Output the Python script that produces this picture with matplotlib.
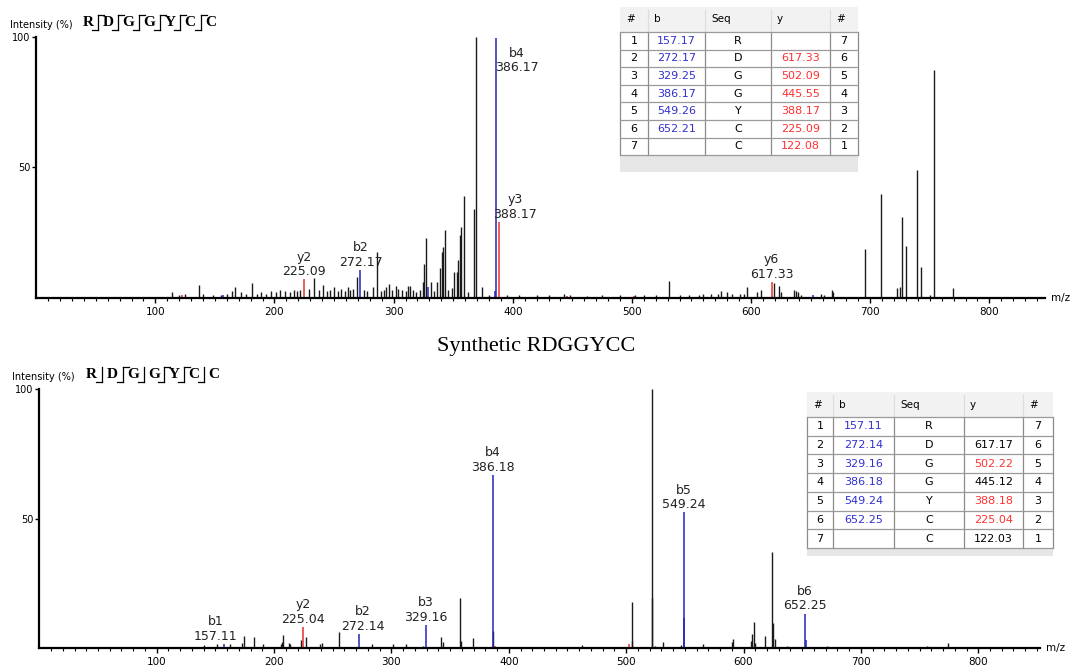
import matplotlib
matplotlib.use("Agg")
import matplotlib.pyplot as plt
from matplotlib.patches import Rectangle
from matplotlib.lines import Line2D

# ---------------- data ----------------
sequence = ["R", "D", "G", "G", "Y", "C", "C"]

# top spectrum (observed peptide)
top_other_mz = [114, 120, 125, 137, 140, 148, 155, 160, 164, 167, 172, 176, 181, 185, 189, 193, 197,
                201, 205, 209, 213, 216, 219, 221, 229, 233, 237, 241, 244, 247, 250, 253, 256, 259,
                261.5, 263.4, 266, 269, 275, 278, 283, 286, 289, 292, 294, 296.4, 299, 302, 304,
                306.8, 310, 312, 313.8, 316, 319, 322, 324.4, 325.8, 326.9, 331.4, 334, 336.7, 339.2,
                340.6, 341.7, 343.2, 346, 349.3, 350.7, 352.9, 354.3, 355.5, 356.6, 358.8, 362, 367.5,
                368.9, 374, 380, 395, 405, 420, 430, 443, 448, 462, 475, 490, 503, 510, 520, 531.4,
                540, 548, 556, 560, 566, 572, 575, 580, 584, 591, 594, 597, 605, 608, 619, 623.5, 625,
                636, 637.5, 639, 642, 659, 661, 667.7, 669, 695.7, 709, 722.5, 725, 726.7, 730, 739.3,
                742.7, 750.2, 753.6, 769.5]
top_other_int = [2, 1, 1.5, 4.7, 1.5, 1, 1.2, 1.5, 2.5, 4, 2, 1.5, 5.5, 1.5, 2, 1.5, 2.5,
                 2, 3, 2.5, 2, 3, 2.5, 3, 3.5, 7.4, 3, 4.7, 2.5, 3, 4, 2.5, 3.5, 2.5,
                 4, 3, 3.5, 8, 3, 2.5, 4, 17.6, 2.5, 3, 4, 5.4, 3, 4.5, 3.5,
                 3, 2.5, 4.5, 4.5, 3, 2, 3, 6, 13, 23, 6, 2.5, 6, 11.4,
                 17.6, 19.6, 26, 3, 3.7, 10, 10, 14.5, 24, 27, 39, 2, 34,
                 100, 4, 1, 1, 1, 1, 1.2, 1.5, 1, 0.8, 1, 1, 1, 1, 1, 6.4,
                 1, 1.2, 1, 1.5, 1.3, 1.5, 2.5, 2.2, 1.5, 1.5, 1.5, 4, 2, 3, 5.5, 4.5, 2,
                 3, 2.5, 2, 1, 1.5, 1, 3, 2, 18.7, 39.8, 3.7, 4.1, 31, 20, 49,
                 11.8, 1, 87.4, 3.8]
top_b_mz = [157.17, 272.17, 329.25, 385.2, 386.17, 651.8]
top_b_int = [1, 10.6, 4, 2.5, 99.5, 1]
top_y_mz = [122.08, 225.09, 388.17, 445.55, 502.09, 617.33]
top_y_int = [1, 7, 29, 0.6, 0.5, 6]
top_labels = ["y2", "b2", "b4", "y3", "y6"]
top_label_mz = [225.09, 272.17, 386.17, 388.17, 617.33]
top_label_int = [7, 10.6, 99.5, 29, 6]

# bottom spectrum (synthetic peptide)
bot_other_mz = [140.3, 151.4, 162.2, 172.7, 174.7, 183.2, 190.3, 205.9, 206.8, 207.9, 212.5, 213.5,
                223, 227, 239.2, 241.1, 255.6, 283.7, 301.1, 312.4, 327.2, 342, 344.3, 358.2, 359.3,
                369.2, 386.9, 462, 504.7, 505.3, 521.8, 522.3, 524.8, 531.8, 547, 565.6, 589.9,
                591.3, 606.1, 607.3, 608.7, 610, 618.1, 624.3, 624.8, 626.8, 636.8, 670.9, 756, 774.5]
bot_other_int = [1.2, 1.5, 1.5, 2.2, 4.9, 4.2, 1.5, 1.5, 2.6, 5, 2.2, 1.5,
                 3.2, 4.5, 1.5, 2, 6.3, 1.5, 1.7, 1.8, 1, 4.2, 2.6, 19.5, 2.8,
                 3.9, 6.7, 1.3, 18, 3, 100, 19.5, 1, 2.5, 1.3, 1.5, 2.5,
                 3.4, 3, 5.4, 10.3, 2, 4.6, 37.2, 9.6, 3.5, 1, 1, 1, 2.2]
bot_b_mz = [157.11, 272.14, 329.16, 386.18, 549.24, 549.6, 652.25, 653.0]
bot_b_int = [1.7, 5.4, 9, 66.8, 52.4, 11.8, 13.4, 3.2]
bot_y_mz = [225.04, 388.18, 502.22]
bot_y_int = [8.1, 1, 1.5]
bot_labels = ["b1", "y2", "b2", "b3", "b4", "b5", "b6"]
bot_label_mz = [157.11, 225.04, 272.14, 329.16, 386.18, 549.24, 652.25]
bot_label_int = [1.7, 8.1, 5.4, 9, 66.8, 52.4, 13.4]

# fragment tables
top_b_tab = ["157.17", "272.17", "329.25", "386.17", "549.26", "652.21", ""]
top_y_tab = ["", "617.33", "502.09", "445.55", "388.17", "225.09", "122.08"]
top_y_found = [False, True, True, True, True, True, True]
bot_b_tab = ["157.11", "272.14", "329.16", "386.18", "549.24", "652.25", ""]
bot_y_tab = ["", "617.17", "502.22", "445.12", "388.18", "225.04", "122.03"]
bot_y_found = [False, False, True, False, True, True, False]

B_COL = "#2424b4"
Y_COL = "#e83030"
K_COL = "#1a1a1a"
W, H = 1073, 671


def fx(px):
    return px / W


def fy(py):
    return 1 - py / H


fig = plt.figure(figsize=(W / 100, H / 100), dpi=100)
fig.patch.set_facecolor("white")


def spectrum(rect, xmax, other_mz, other_int, b_mz, b_int, y_mz, y_int):
    ax = fig.add_axes(rect)
    ax.vlines(other_mz, 0, other_int, color=K_COL, lw=1.0, clip_on=False)
    ax.vlines(b_mz, 0, b_int, color=B_COL, lw=1.1, clip_on=False)
    ax.vlines(y_mz, 0, y_int, color=Y_COL, lw=1.1, clip_on=False)
    ax.set_xlim(0, xmax)
    ax.set_ylim(0, 100)
    for s in ["top", "right"]:
        ax.spines[s].set_visible(False)
    ax.spines["left"].set_linewidth(1.6)
    ax.spines["bottom"].set_linewidth(1.6)
    ax.set_yticks([50, 100])
    ax.set_yticklabels(["50", "100"])
    ax.set_xticks(range(100, 900, 100))
    ax.set_xticks(range(10, int(xmax), 10), minor=True)
    ax.tick_params(axis="y", length=3, width=1, pad=1, labelsize=7)
    ax.tick_params(axis="x", which="major", length=3.6, width=1, pad=3, labelsize=7.5)
    ax.tick_params(axis="x", which="minor", length=2, width=0.8)
    ax.text(1.006, 0, "m/z", transform=ax.transAxes, fontsize=7.5, va="center", ha="left")
    return ax


def label_peaks(ax, names, mzs, ints, dx=None, dy=None, va=None):
    for i, (n, m, v) in enumerate(zip(names, mzs, ints)):
        ox = 0 if dx is None else dx[i]
        oy = 2 if dy is None else dy[i]
        a = "bottom" if va is None else va[i]
        ax.annotate(f"{n}\n{m:.2f}", (m, v), xytext=(ox, oy), textcoords="offset points",
                    ha="center", va=a, fontsize=9, color="#222222", linespacing=1.15)


def seq_header(x0, yc, xs, y_found):
    fig.text(fx(x0), fy(yc + 2), "Intensity (%)", fontsize=7, va="center", ha="left")
    for x, aa in zip(xs, sequence):
        fig.text(fx(x), fy(yc), aa, fontsize=11, fontweight="bold", family="Liberation Serif",
                 ha="center", va="center")
    for i in range(len(xs) - 1):
        sx = (xs[i] + xs[i + 1]) / 2
        fig.add_artist(Line2D([fx(sx), fx(sx)], [fy(yc - 8), fy(yc + 7)], color="black", lw=0.9))
        fig.add_artist(Line2D([fx(sx - 6), fx(sx)], [fy(yc + 7), fy(yc + 7)], color="black", lw=0.9))
        if y_found[i + 1]:
            fig.add_artist(Line2D([fx(sx), fx(sx + 6)], [fy(yc - 8), fy(yc - 8)], color="black", lw=0.9))


def frag_table(cols, top, head_h, row_h, foot_h, b_tab, y_tab, y_found):
    x0, x1 = cols[0], cols[-1]
    rows_top = top + head_h
    bottom = rows_top + row_h * len(sequence)
    fig.add_artist(Rectangle((fx(x0), fy(bottom + foot_h)), fx(x1 - x0), (bottom + foot_h - top) / H,
                             transform=fig.transFigure, facecolor="white", edgecolor="none", zorder=5))
    fig.add_artist(Rectangle((fx(x0), fy(rows_top)), fx(x1 - x0), head_h / H,
                             transform=fig.transFigure, facecolor="#f2f2f2", edgecolor="none", zorder=5))
    fig.add_artist(Rectangle((fx(x0), fy(bottom + foot_h)), fx(x1 - x0), foot_h / H,
                             transform=fig.transFigure, facecolor="#e6e6e6", edgecolor="none", zorder=5))
    for c in cols:
        fig.add_artist(Line2D([fx(c), fx(c)], [fy(rows_top), fy(bottom)], color="#8a8a8a", lw=0.9, zorder=6))
    for c in cols[1:-1]:
        fig.add_artist(Line2D([fx(c), fx(c)], [fy(top + 3), fy(rows_top)], color="#dddddd", lw=0.9, zorder=6))
    for r in range(len(sequence) + 1):
        yy = rows_top + r * row_h
        fig.add_artist(Line2D([fx(x0), fx(x1)], [fy(yy), fy(yy)], color="#9a9a9a", lw=0.9, zorder=6))
    heads = ["#", "b", "Seq", "y", "#"]
    for c, h in zip(cols[:-1], heads):
        fig.text(fx(c + 6), fy(top + head_h / 2), h, fontsize=7.5, va="center", ha="left", zorder=7)
    n = len(sequence)
    for r in range(n):
        yy = fy(rows_top + (r + 0.5) * row_h)
        mids = [(cols[k] + cols[k + 1]) / 2 for k in range(5)]
        fig.text(fx(mids[0]), yy, str(r + 1), fontsize=8, ha="center", va="center", zorder=7)
        fig.text(fx(mids[1]), yy, b_tab[r], fontsize=8, ha="center", va="center", color="#3030d0", zorder=7)
        fig.text(fx(mids[2]), yy, sequence[r], fontsize=8, ha="center", va="center", zorder=7)
        fig.text(fx(mids[3]), yy, y_tab[r], fontsize=8, ha="center", va="center",
                 color="#ff3030" if y_found[r] else "black", zorder=7)
        fig.text(fx(mids[4]), yy, str(n - r), fontsize=8, ha="center", va="center", zorder=7)


# top panel
ax1 = spectrum([fx(36.2), fy(297.7), (1045 - 36.2) / W, 260.7 / H], 846.7,
               top_other_mz, top_other_int, top_b_mz, top_b_int, top_y_mz, top_y_int)
label_peaks(ax1, top_labels, top_label_mz, top_label_int,
            dx=[0, 0, 14.5, 12, 0], dy=[1, 1, -6, 1, 1],
            va=["bottom", "bottom", "top", "bottom", "bottom"])
seq_header(10, 23, [88, 108, 128, 149, 170, 190, 211], top_y_found)
frag_table([620, 648, 705, 771, 830, 858], 7, 25, 17.6, 17, top_b_tab, top_y_tab, top_y_found)

# bottom panel
ax2 = spectrum([fx(39.3), fy(648.3), (1040 - 39.3) / W, 259.3 / H], 852.6,
               bot_other_mz, bot_other_int, bot_b_mz, bot_b_int, bot_y_mz, bot_y_int)
label_peaks(ax2, bot_labels, bot_label_mz, bot_label_int,
            dx=[-6, 0, 3, 0, 0, 0, 0], dy=[1, 1, 1, 1, 1, 1, 1])
seq_header(12, 375, [91, 112, 133, 154, 174, 194, 214], bot_y_found)
frag_table([807, 833, 894, 964, 1023, 1053], 392, 25, 18.7, 8, bot_b_tab, bot_y_tab, bot_y_found)

fig.text(0.5, fy(347), "Synthetic RDGGYCC", fontsize=16, family="Liberation Serif",
         ha="center", va="center")

fig.savefig("out.png", dpi=100)
